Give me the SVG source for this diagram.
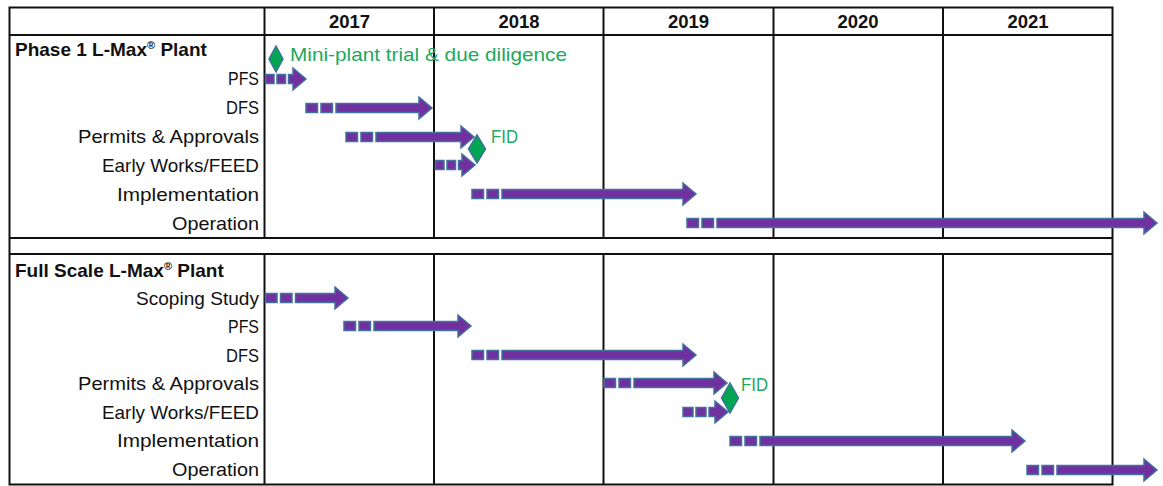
<svg xmlns="http://www.w3.org/2000/svg" width="1163" height="486" viewBox="0 0 1163 486">
<defs>
<style>
.grid{stroke:#111;stroke-width:2;fill:none}
.lbl{font-family:"Liberation Sans",Arial,sans-serif;font-size:19px;fill:#111}
.ttl{font-family:"Liberation Sans",Arial,sans-serif;font-size:19px;font-weight:bold;fill:#111}
.yr{font-family:"Liberation Sans",Arial,sans-serif;font-size:18.5px;font-weight:bold;fill:#111;text-anchor:middle}
.ms{font-family:"Liberation Sans",Arial,sans-serif;font-size:19px;fill:#22A85C}
.bar{fill:#7030A0;stroke:#41719C;stroke-width:1.5;stroke-linejoin:miter}
.dia{fill:#00A651;stroke:#41719C;stroke-width:1.5}
</style>
</defs>
<rect x="0" y="0" width="1163" height="486" fill="#fff"/>
<g id="grid" class="grid">
<rect x="9.5" y="7.5" width="1103" height="477"/>
<line x1="9.5" y1="35" x2="1112.5" y2="35"/>
<line x1="9.5" y1="238" x2="1112.5" y2="238"/>
<line x1="9.5" y1="254" x2="1112.5" y2="254"/>
<line x1="264.5" y1="7.5" x2="264.5" y2="238"/>
<line x1="434" y1="7.5" x2="434" y2="238"/>
<line x1="603.5" y1="7.5" x2="603.5" y2="238"/>
<line x1="773.5" y1="7.5" x2="773.5" y2="238"/>
<line x1="943" y1="7.5" x2="943" y2="238"/>
<line x1="264.5" y1="254" x2="264.5" y2="484.5"/>
<line x1="434" y1="254" x2="434" y2="484.5"/>
<line x1="603.5" y1="254" x2="603.5" y2="484.5"/>
<line x1="773.5" y1="254" x2="773.5" y2="484.5"/>
<line x1="943" y1="254" x2="943" y2="484.5"/>
</g>
<g id="years">
<text class="yr" x="349.5" y="28">2017</text>
<text class="yr" x="519" y="28">2018</text>
<text class="yr" x="688.5" y="28">2019</text>
<text class="yr" x="858" y="28">2020</text>
<text class="yr" x="1028" y="28">2021</text>
</g>
<g id="titles">
<text class="ttl" x="15" y="56">Phase 1 L-Max<tspan font-size="11" dy="-7">®</tspan><tspan dy="7"> Plant</tspan></text>
<text class="ttl" x="15" y="277">Full Scale L-Max<tspan font-size="11" dy="-7">®</tspan><tspan dy="7"> Plant</tspan></text>
</g>
<g id="milestone-miniplant">
<polygon class="dia" points="276,46 283,59 276,72 269,59"/>
<text class="ms" x="290" y="61" textLength="277" lengthAdjust="spacingAndGlyphs">Mini-plant trial &amp; due diligence</text>
</g>
<g id="milestone-fid1">
<polygon class="dia" points="477,135 485.5,149 477,163 468.5,149"/>
<text class="ms" x="491" y="143" textLength="27" lengthAdjust="spacingAndGlyphs">FID</text>
</g>
<g id="milestone-fid2">
<polygon class="dia" points="730,383 738.5,398 730,413 721.5,398"/>
<text class="ms" x="741" y="391" textLength="27" lengthAdjust="spacingAndGlyphs">FID</text>
</g>
<g id="p1-pfs">
<text class="lbl" x="228" y="85" textLength="31" lengthAdjust="spacingAndGlyphs">PFS</text>
<rect class="bar" x="265.5" y="74.5" width="8.5" height="9"/>
<rect class="bar" x="277" y="74.5" width="8.5" height="9"/>
<path class="bar" d="M288.5,74.5 H293 V68 L306,79 L293,90 V83.5 H288.5 Z"/>
</g>
<g id="p1-dfs">
<text class="lbl" x="226" y="114" textLength="33" lengthAdjust="spacingAndGlyphs">DFS</text>
<rect class="bar" x="306" y="103.5" width="11.5" height="9"/>
<rect class="bar" x="321" y="103.5" width="11.5" height="9"/>
<path class="bar" d="M336,103.5 H419 V97 L432,108 L419,119 V112.5 H336 Z"/>
</g>
<g id="p1-permits">
<text class="lbl" x="78" y="143" textLength="181" lengthAdjust="spacingAndGlyphs">Permits &amp; Approvals</text>
<rect class="bar" x="346" y="132.5" width="11.5" height="9"/>
<rect class="bar" x="361" y="132.5" width="11.5" height="9"/>
<path class="bar" d="M376,132.5 H461 V126 L474,137 L461,148 V141.5 H376 Z"/>
</g>
<g id="p1-early">
<text class="lbl" x="102" y="172" textLength="157" lengthAdjust="spacingAndGlyphs">Early Works/FEED</text>
<rect class="bar" x="435.5" y="160.5" width="8.5" height="9"/>
<rect class="bar" x="447" y="160.5" width="8.5" height="9"/>
<path class="bar" d="M458.5,160.5 H462 V154 L475,165 L462,176 V169.5 H458.5 Z"/>
</g>
<g id="p1-impl">
<text class="lbl" x="117" y="201" textLength="142" lengthAdjust="spacingAndGlyphs">Implementation</text>
<rect class="bar" x="472" y="189.5" width="11.5" height="9"/>
<rect class="bar" x="487" y="189.5" width="11.5" height="9"/>
<path class="bar" d="M502,189.5 H683 V183 L696,194 L683,205 V198.5 H502 Z"/>
</g>
<g id="p1-oper">
<text class="lbl" x="172" y="230" textLength="87" lengthAdjust="spacingAndGlyphs">Operation</text>
<rect class="bar" x="687" y="218.5" width="11.5" height="9"/>
<rect class="bar" x="702" y="218.5" width="11.5" height="9"/>
<path class="bar" d="M717,218.5 H1144 V212 L1157,223 L1144,234 V227.5 H717 Z"/>
</g>
<g id="fs-scoping">
<text class="lbl" x="136" y="305" textLength="123" lengthAdjust="spacingAndGlyphs">Scoping Study</text>
<rect class="bar" x="265.5" y="293.5" width="11.5" height="9"/>
<rect class="bar" x="280.5" y="293.5" width="11.5" height="9"/>
<path class="bar" d="M295.5,293.5 H335 V287 L348,298 L335,309 V302.5 H295.5 Z"/>
</g>
<g id="fs-pfs">
<text class="lbl" x="228" y="333" textLength="31" lengthAdjust="spacingAndGlyphs">PFS</text>
<rect class="bar" x="344" y="321.5" width="11.5" height="9"/>
<rect class="bar" x="359" y="321.5" width="11.5" height="9"/>
<path class="bar" d="M374,321.5 H458 V315 L471,326 L458,337 V330.5 H374 Z"/>
</g>
<g id="fs-dfs">
<text class="lbl" x="226" y="362" textLength="33" lengthAdjust="spacingAndGlyphs">DFS</text>
<rect class="bar" x="472" y="350.5" width="11.5" height="9"/>
<rect class="bar" x="487" y="350.5" width="11.5" height="9"/>
<path class="bar" d="M502,350.5 H683 V344 L696,355 L683,366 V359.5 H502 Z"/>
</g>
<g id="fs-permits">
<text class="lbl" x="78" y="390" textLength="181" lengthAdjust="spacingAndGlyphs">Permits &amp; Approvals</text>
<rect class="bar" x="604" y="378.5" width="11.5" height="9"/>
<rect class="bar" x="619" y="378.5" width="11.5" height="9"/>
<path class="bar" d="M634,378.5 H714 V372 L727,383 L714,394 V387.5 H634 Z"/>
</g>
<g id="fs-early">
<text class="lbl" x="102" y="419" textLength="157" lengthAdjust="spacingAndGlyphs">Early Works/FEED</text>
<rect class="bar" x="683" y="407.5" width="10" height="9"/>
<rect class="bar" x="696" y="407.5" width="10" height="9"/>
<path class="bar" d="M709,407.5 H715 V401 L728,412 L715,423 V416.5 H709 Z"/>
</g>
<g id="fs-impl">
<text class="lbl" x="117" y="447" textLength="142" lengthAdjust="spacingAndGlyphs">Implementation</text>
<rect class="bar" x="730" y="436.5" width="11.5" height="9"/>
<rect class="bar" x="745" y="436.5" width="11.5" height="9"/>
<path class="bar" d="M760,436.5 H1012 V430 L1025,441 L1012,452 V445.5 H760 Z"/>
</g>
<g id="fs-oper">
<text class="lbl" x="172" y="476" textLength="87" lengthAdjust="spacingAndGlyphs">Operation</text>
<rect class="bar" x="1027" y="465.5" width="11.5" height="9"/>
<rect class="bar" x="1042" y="465.5" width="11.5" height="9"/>
<path class="bar" d="M1057,465.5 H1144 V459 L1157,470 L1144,481 V474.5 H1057 Z"/>
</g>
</svg>
